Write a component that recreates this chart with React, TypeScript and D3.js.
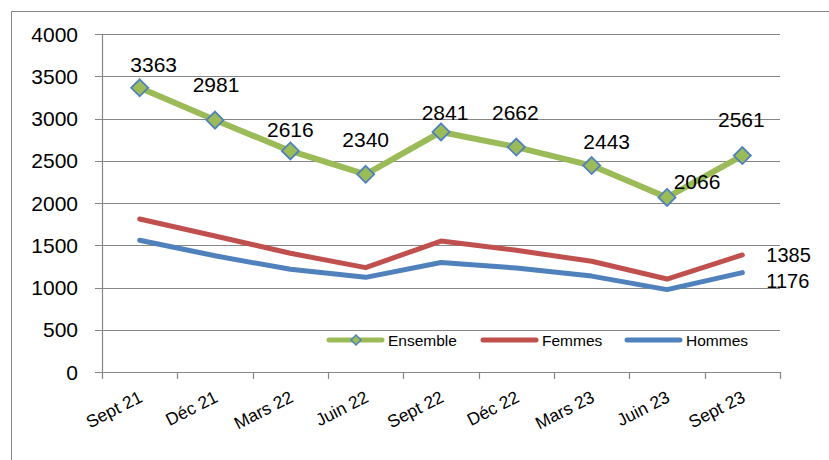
import React, { useEffect, useRef } from 'react';
import * as d3 from 'd3';

const categories = ['Sept 21', 'Déc 21', 'Mars 22', 'Juin 22', 'Sept 22', 'Déc 22', 'Mars 23', 'Juin 23', 'Sept 23'];
const ensemble = [3363, 2981, 2616, 2340, 2841, 2662, 2443, 2066, 2561];
const femmes = [1810, 1610, 1405, 1235, 1550, 1440, 1310, 1100, 1385];
const hommes = [1560, 1375, 1215, 1120, 1295, 1230, 1135, 975, 1176];
const yTicks = [0, 500, 1000, 1500, 2000, 2500, 3000, 3500, 4000];

// hand placement of the Ensemble value labels, relative to each point
const labelOffsets: [number, number][] = [
  [14, -16], [1, -28], [0, -14], [0, -27], [4, -12], [-1, -27], [15, -17], [30, -8], [-1, -29],
];

const GREEN = '#9BBB59';
const RED = '#C0504D';
const BLUE = '#4F81BD';
const GRID = '#868686';
const FONT = '"Liberation Sans", Arial, sans-serif';

const App = () => {
  const ref = useRef<SVGSVGElement | null>(null);

  useEffect(() => {
    const svg = d3.select(ref.current);
    svg.selectAll('*').remove();

    const left = 102;
    const right = 780;
    const top = 34;
    const bottom = 372;

    const x = d3.scaleBand<string>().domain(categories).range([left, right]);
    const y = d3.scaleLinear().domain([0, 4000]).range([bottom, top]);
    const cx = (i: number) => (x(categories[i]) as number) + x.bandwidth() / 2;

    // outer frame (cropped on the right and bottom)
    svg.append('path')
      .attr('d', 'M11.5,470 L11.5,11.5 L840,11.5')
      .attr('fill', 'none')
      .attr('stroke', GRID)
      .attr('stroke-width', 1);

    // gridlines + y ticks
    svg.append('g')
      .selectAll('line')
      .data(yTicks)
      .enter().append('line')
      .attr('x1', left - 7)
      .attr('x2', right)
      .attr('y1', d => Math.round(y(d)) + 0.5)
      .attr('y2', d => Math.round(y(d)) + 0.5)
      .attr('stroke', GRID)
      .attr('stroke-width', 1.2);

    svg.append('g')
      .selectAll('text')
      .data(yTicks)
      .enter().append('text')
      .attr('x', 78)
      .attr('y', d => y(d) + 7.5)
      .attr('text-anchor', 'end')
      .style('font-family', FONT)
      .style('font-size', '21px')
      .attr('fill', '#000')
      .text(d => d);

    // y axis line
    svg.append('line')
      .attr('x1', left + 0.5).attr('x2', left + 0.5)
      .attr('y1', top).attr('y2', bottom)
      .attr('stroke', GRID).attr('stroke-width', 1.2);

    // x ticks at band edges
    const edges = categories.map(c => x(c) as number).concat([right]);
    svg.append('g')
      .selectAll('line')
      .data(edges)
      .enter().append('line')
      .attr('x1', d => Math.round(d) + 0.5)
      .attr('x2', d => Math.round(d) + 0.5)
      .attr('y1', bottom)
      .attr('y2', bottom + 7)
      .attr('stroke', GRID)
      .attr('stroke-width', 1.2);

    // x labels
    svg.append('g')
      .selectAll('text')
      .data(categories)
      .enter().append('text')
      .attr('transform', (d, i) => `translate(${cx(i) + 4},${bottom + 29}) rotate(-27)`)
      .attr('text-anchor', 'end')
      .style('font-family', FONT)
      .style('font-size', '17.5px')
      .attr('fill', '#000')
      .text(d => d);

    const line = d3.line<number>()
      .x((d, i) => cx(i))
      .y(d => y(d));

    svg.append('path').datum(hommes)
      .attr('d', line).attr('fill', 'none')
      .attr('stroke', BLUE).attr('stroke-width', 5)
      .attr('stroke-linejoin', 'round').attr('stroke-linecap', 'round');

    svg.append('path').datum(femmes)
      .attr('d', line).attr('fill', 'none')
      .attr('stroke', RED).attr('stroke-width', 5)
      .attr('stroke-linejoin', 'round').attr('stroke-linecap', 'round');

    svg.append('path').datum(ensemble)
      .attr('d', line).attr('fill', 'none')
      .attr('stroke', GREEN).attr('stroke-width', 6)
      .attr('stroke-linejoin', 'round').attr('stroke-linecap', 'round');

    const diamond = (s: number) => `M0,${-s} L${s},0 L0,${s} L${-s},0 Z`;

    svg.append('g')
      .selectAll('path')
      .data(ensemble)
      .enter().append('path')
      .attr('d', diamond(8.5))
      .attr('transform', (d, i) => `translate(${cx(i)},${y(d)})`)
      .attr('fill', GREEN)
      .attr('stroke', BLUE)
      .attr('stroke-width', 1.8);

    // value labels
    svg.append('g')
      .selectAll('text')
      .data(ensemble)
      .enter().append('text')
      .attr('x', (d, i) => cx(i) + labelOffsets[i][0])
      .attr('y', (d, i) => y(d) + labelOffsets[i][1])
      .attr('text-anchor', 'middle')
      .style('font-family', FONT)
      .style('font-size', '21px')
      .attr('fill', '#000')
      .text(d => d);

    const last = categories.length - 1;
    svg.append('text')
      .attr('x', cx(last) + 24)
      .attr('y', y(femmes[last]) + 7)
      .style('font-family', FONT).style('font-size', '20px')
      .text(femmes[last]);
    svg.append('text')
      .attr('x', cx(last) + 24)
      .attr('y', y(hommes[last]) + 15)
      .style('font-family', FONT).style('font-size', '20px')
      .text(hommes[last]);

    // legend
    const legend = [
      { name: 'Ensemble', color: GREEN, x0: 329, marker: true },
      { name: 'Femmes', color: RED, x0: 483, marker: false },
      { name: 'Hommes', color: BLUE, x0: 627, marker: false },
    ];
    const ly = 340;
    const lg = svg.append('g').selectAll('g').data(legend).enter().append('g');
    lg.append('line')
      .attr('x1', d => d.x0).attr('x2', d => d.x0 + 53)
      .attr('y1', ly).attr('y2', ly)
      .attr('stroke', d => d.color).attr('stroke-width', 5)
      .attr('stroke-linecap', 'round');
    lg.filter(d => d.marker).append('path')
      .attr('d', diamond(5))
      .attr('transform', d => `translate(${d.x0 + 27},${ly})`)
      .attr('fill', GREEN).attr('stroke', BLUE).attr('stroke-width', 1.5);
    lg.append('text')
      .attr('x', d => d.x0 + 59)
      .attr('y', ly + 5.5)
      .style('font-family', FONT)
      .style('font-size', '15.5px')
      .attr('fill', '#000')
      .text(d => d.name);
  }, []);

  return (
    <svg ref={ref} width={829} height={460}
      style={{ position: 'absolute', left: 0, top: 0, background: '#fff' }} />
  );
};

export default App;
